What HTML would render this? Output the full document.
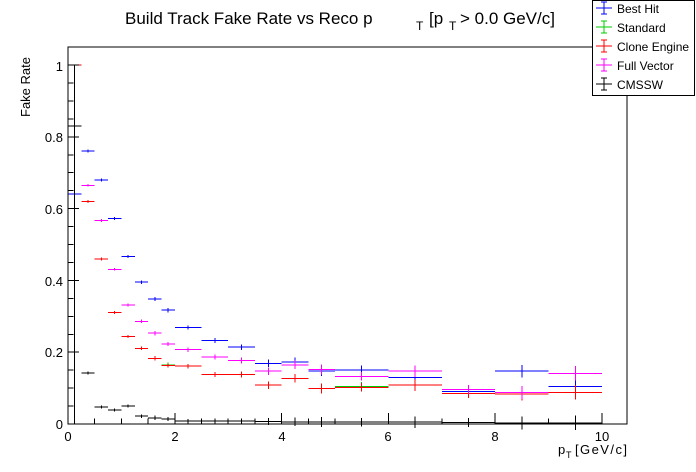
<!DOCTYPE html>
<html><head><meta charset="utf-8"><style>
body{margin:0;background:#fff;}
svg{display:block;font-family:"Liberation Sans",sans-serif;}
</style></head><body>
<svg id="s" width="696" height="472" viewBox="0 0 696 472" xmlns="http://www.w3.org/2000/svg">
<rect width="696" height="472" fill="#fff"/>
<text x="125" y="24" font-size="17">Build Track Fake Rate vs Reco p</text>
<text x="416" y="30" font-size="12">T</text>
<text x="429" y="24" font-size="17">[p</text>
<text x="449" y="30" font-size="12">T</text>
<text x="460" y="24" font-size="17">&gt; 0.0 GeV/c]</text>
<text transform="translate(30,117) rotate(-90)" font-size="13">Fake Rate</text>
<text x="558" y="454" font-size="13">p</text>
<text x="566" y="458" font-size="9">T</text>
<text x="575" y="454" font-size="13" textLength="52">[GeV/c]</text>
<g font-size="13" text-anchor="end">
<text x="63" y="429">0</text><text x="63" y="357">0.2</text><text x="63" y="286">0.4</text>
<text x="63" y="214">0.6</text><text x="63" y="142">0.8</text><text x="63" y="71">1</text>
</g>
<g font-size="13" text-anchor="middle">
<text x="68" y="441">0</text><text x="175" y="441">2</text><text x="282" y="441">4</text>
<text x="388" y="441">6</text><text x="495" y="441">8</text><text x="602" y="441">10</text>
</g>
<g id="d" shape-rendering="crispEdges"></g>
<rect x="68" y="47" width="559" height="377" fill="none" stroke="#000" stroke-width="1" shape-rendering="crispEdges"/>
<g id="t" stroke="#000" stroke-width="1" shape-rendering="crispEdges"></g>
<rect x="592.5" y="0.5" width="102" height="95" fill="#fff" stroke="#000" shape-rendering="crispEdges"/>
<g font-size="12">
<text x="617" y="13">Best Hit</text><text x="617" y="32">Standard</text>
<text x="617" y="51">Clone Engine</text><text x="617" y="70">Full Vector</text>
<text x="617" y="89">CMSSW</text>
</g>
<g id="lg" shape-rendering="crispEdges"></g>
</svg>
<script>
const NS="http://www.w3.org/2000/svg";
function L(g,x1,y1,x2,y2,c,w){const l=document.createElementNS(NS,"line");l.setAttribute("x1",x1);l.setAttribute("y1",y1);l.setAttribute("x2",x2);l.setAttribute("y2",y2);l.setAttribute("stroke",c);l.setAttribute("stroke-width",w||1);g.appendChild(l);}
const X=v=>68+v*53.4, Y=v=>424-v*359;
const t=document.getElementById("t");
for(let i=0;i<=20;i++){const x=X(i*0.5);L(t,x,424,x,424-(i%4==0?11:5.5),"#000");}
for(let i=0;i<=20;i++){const y=Y(i*0.05);L(t,68,y,68+(i%4==0?11:5.5),y,"#000");}
const edges=[0,0.25,0.5,0.75,1,1.25,1.5,1.75,2,2.5,3,3.5,4,4.5,5,6,7,8,9,10];
const err=[0.005,0.004,0.004,0.004,0.004,0.005,0.006,0.006,0.006,0.007,0.008,0.01,0.012,0.014,0.012,0.016,0.013,0.018,0.02];
const S={
"#0000ff":[0.64,0.76,0.68,0.572,0.467,0.395,0.348,0.317,0.269,0.233,0.214,0.169,0.173,0.148,0.151,0.13,0.091,0.147,0.105],
"#00cc00":[1.0,0.62,0.46,0.311,0.244,0.211,0.183,0.165,0.161,0.138,0.138,0.108,0.127,0.099,0.105,0.108,0.085,0.084,0.088],
"#ff0000":[1.0,0.62,0.46,0.311,0.244,0.211,0.183,0.163,0.161,0.138,0.138,0.108,0.127,0.099,0.102,0.108,0.085,0.084,0.088],
"#ff00ff":[null,0.665,0.567,0.431,0.331,0.286,0.253,0.223,0.207,0.186,0.177,0.147,0.165,0.152,0.133,0.147,0.096,0.088,0.141],
"#000000":[0.83,0.142,0.047,0.039,0.05,0.022,0.017,0.014,0.008,0.008,0.008,0.007,0.006,0.006,0.005,0.005,0.004,0.003,0.003]};
const d=document.getElementById("d");
for(const c in S){S[c].forEach((v,i)=>{if(v==null)return;const a=edges[i],b=edges[i+1],m=(a+b)/2;
L(d,X(a),Y(v),X(b),Y(v),c);let e=err[i];
if(i==0){if(c=="#0000ff"){L(d,X(m),Y(0.54),X(m),Y(0.745),c);return;}
if(c=="#ff0000"||c=="#00cc00"){L(d,X(m),Y(1),X(m),Y(0.9),c);return;}
if(c=="#000000"){L(d,X(m),Y(1),X(m),Y(0),c);return;}}
L(d,X(m),Y(v+e),X(m),Y(v-e),c);});}
const lg=document.getElementById("lg");
["#0000ff","#00cc00","#ff0000","#ff00ff","#000000"].forEach((c,i)=>{const y=8+i*19;
L(lg,596,y,612,y,c);L(lg,604,y-6,604,y+6,c);L(lg,601,y-6,607,y-6,c);L(lg,601,y+6,607,y+6,c);});
</script>
</body></html>
